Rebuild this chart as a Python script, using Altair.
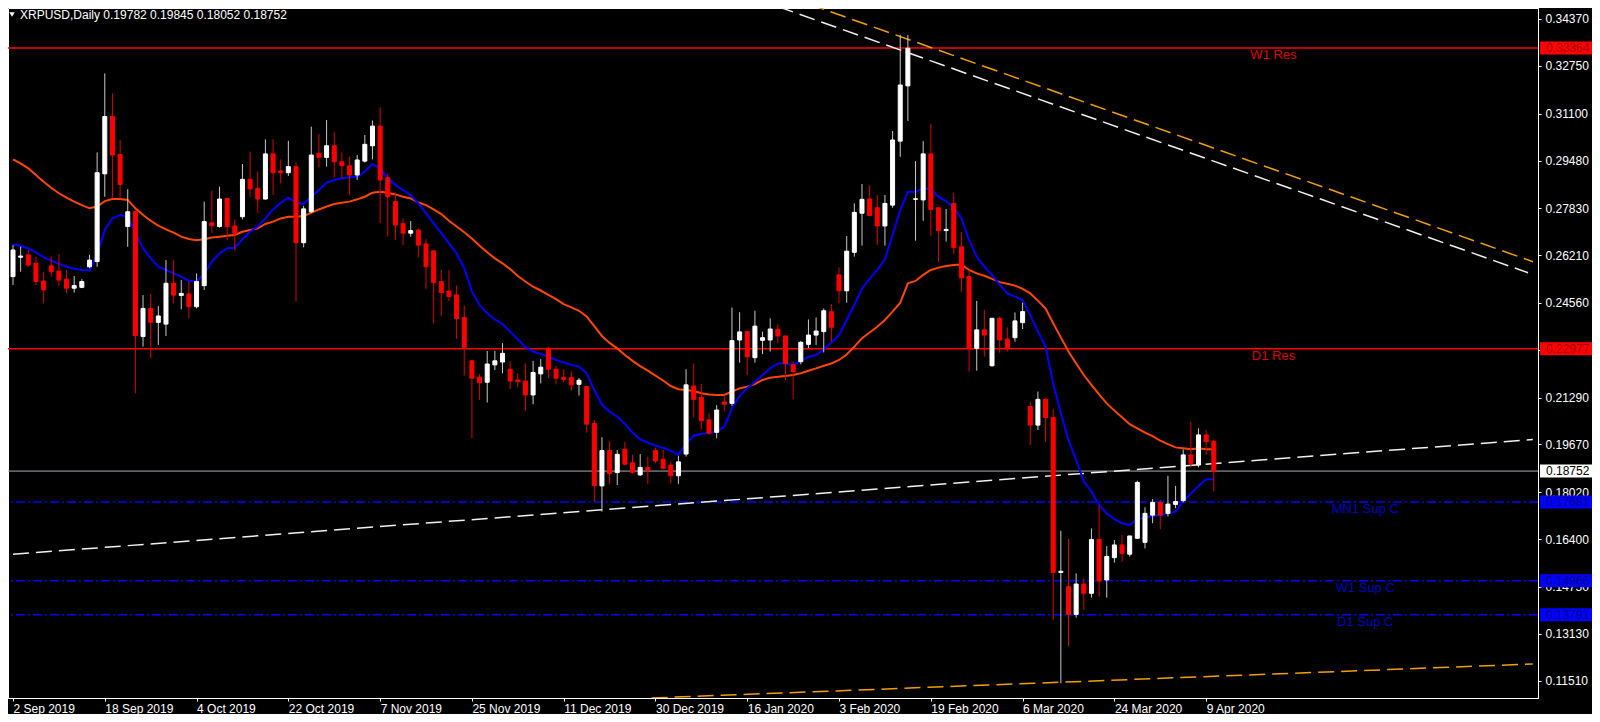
import altair as alt
import pandas as pd

# ---------------- data ----------------
opens = [0.2547,0.2614,0.2622,0.2593,0.2532,0.2584,0.2566,0.2538,0.2507,0.2510,
         0.2581,0.2599,0.2902,0.3100,0.2969,0.2720,0.2771,0.2340,0.2437,0.2389,
         0.2383,0.2524,0.2482,0.2487,0.2443,0.2516,0.2733,0.2720,0.2817,0.2722,
         0.2754,0.2883,0.2852,0.2815,0.2971,0.2912,0.2906,0.2927,0.2664,0.2771,
         0.2973,0.2959,0.2999,0.2944,0.2930,0.2898,0.2946,0.2999,0.3067,0.2889,
         0.2806,0.2730,0.2697,0.2708,0.2660,0.2636,0.2530,0.2497,0.2484,0.2406,
         0.2256,0.2200,0.2182,0.2242,0.2252,0.2227,0.2190,0.2186,0.2138,0.2211,
         0.2299,0.2227,0.2199,0.2198,0.2175,0.2167,0.2040,0.1824,0.1946,0.1870,
         0.1951,0.1904,0.1862,0.1887,0.1946,0.1916,0.1896,0.1859,0.1934,0.2169,
         0.2130,0.2052,0.2009,0.2114,0.2109,0.2328,0.2357,0.2267,0.2327,0.2328,
         0.2365,0.2342,0.2242,0.2253,0.2313,0.2345,0.2357,0.2426,0.2553,0.2498,
         0.2631,0.2766,0.2815,0.2785,0.2722,0.2794,0.3015,0.3206,0.2814,0.2812,
         0.2971,0.2785,0.2706,0.2800,0.2650,0.2547,0.2299,0.2363,0.2239,0.2403,
         0.2331,0.2336,0.2388,0.2098,0.2034,0.2123,0.2060,0.1525,0.1476,0.1380,
         0.1485,0.1453,0.1639,0.1499,0.1576,0.1620,0.1588,0.1643,0.1629,0.1723,
         0.1767,0.1729,0.1760,0.1773,0.1931,0.1896,0.2000,0.19782]
highs = [0.2656,0.2650,0.2639,0.2616,0.2564,0.2616,0.2625,0.2570,0.2549,0.2538,
         0.2622,0.2976,0.3249,0.3180,0.3019,0.2849,0.2775,0.2483,0.2487,0.2445,
         0.2604,0.2604,0.2535,0.2530,0.2558,0.2806,0.2844,0.2858,0.2820,0.2745,
         0.2936,0.2979,0.2910,0.3021,0.3021,0.2952,0.3016,0.2941,0.2791,0.3065,
         0.3040,0.3088,0.3048,0.2976,0.2961,0.2967,0.3036,0.3086,0.3132,0.2902,
         0.2837,0.2748,0.2739,0.2714,0.2676,0.2636,0.2570,0.2570,0.2516,0.2446,
         0.2259,0.2211,0.2290,0.2290,0.2317,0.2254,0.2213,0.2247,0.2256,0.2262,
         0.2305,0.2239,0.2227,0.2220,0.2197,0.2170,0.2052,0.1992,0.1979,0.1948,
         0.1977,0.1931,0.1934,0.1925,0.1956,0.1948,0.1908,0.1928,0.2227,0.2247,
         0.2176,0.2075,0.2103,0.2138,0.2440,0.2424,0.2357,0.2429,0.2357,0.2403,
         0.2383,0.2342,0.2253,0.2325,0.2399,0.2406,0.2437,0.2452,0.2579,0.2687,
         0.2800,0.2867,0.2863,0.2829,0.2829,0.3050,0.3382,0.3382,0.2946,0.3015,
         0.3074,0.2785,0.2781,0.2837,0.2700,0.2570,0.2463,0.2432,0.2403,0.2409,
         0.2372,0.2423,0.2457,0.2115,0.2150,0.2127,0.2089,0.1669,0.1641,0.1522,
         0.1505,0.1677,0.1755,0.1616,0.1637,0.1654,0.1651,0.1842,0.1750,0.1778,
         0.1775,0.1859,0.1824,0.1950,0.2046,0.2023,0.2017,0.19845]
lows = [0.2518,0.2564,0.2581,0.2518,0.2455,0.2547,0.2515,0.2489,0.2492,0.2507,
        0.2576,0.2581,0.2823,0.2817,0.2817,0.2650,0.2144,0.2305,0.2265,0.2311,
        0.2342,0.2455,0.2434,0.2403,0.2437,0.2501,0.2697,0.2716,0.2673,0.2637,
        0.2745,0.2821,0.2766,0.2813,0.2829,0.2869,0.2895,0.2460,0.2648,0.2766,
        0.2925,0.2927,0.2890,0.2887,0.2829,0.2881,0.2941,0.2952,0.2733,0.2685,
        0.2673,0.2656,0.2685,0.2614,0.2503,0.2386,0.2412,0.2463,0.2332,0.2205,
        0.1988,0.2121,0.2112,0.2224,0.2213,0.2159,0.2165,0.2083,0.2106,0.2178,
        0.2196,0.2175,0.2181,0.2153,0.2136,0.2008,0.1769,0.1735,0.1831,0.1827,
        0.1896,0.1867,0.1858,0.1831,0.1902,0.1881,0.1833,0.1831,0.1925,0.2060,
        0.2019,0.2002,0.1988,0.2083,0.2100,0.2250,0.2207,0.2250,0.2279,0.2288,
        0.2317,0.2190,0.2123,0.2244,0.2300,0.2311,0.2285,0.2322,0.2455,0.2457,
        0.2616,0.2654,0.2755,0.2656,0.2654,0.2785,0.2961,0.3085,0.2671,0.2740,
        0.2688,0.2596,0.2668,0.2624,0.2495,0.2219,0.2222,0.2270,0.2236,0.2284,
        0.2288,0.2322,0.2366,0.1965,0.2017,0.1977,0.1361,0.1142,0.1269,0.1369,
        0.1395,0.1438,0.1441,0.1438,0.1559,0.1562,0.1580,0.1641,0.1608,0.1695,
        0.1674,0.1718,0.1747,0.1767,0.1888,0.1888,0.1931,0.18052]
closes = [0.2639,0.2618,0.2587,0.2530,0.2501,0.2564,0.2535,0.2507,0.2516,0.2530,
          0.2604,0.2906,0.3100,0.2967,0.2866,0.2771,0.2343,0.2437,0.2389,0.2411,
          0.2524,0.2483,0.2489,0.2443,0.2530,0.2737,0.2723,0.2815,0.2720,0.2697,
          0.2883,0.2850,0.2815,0.2971,0.2906,0.2906,0.2927,0.2664,0.2781,0.2967,
          0.2959,0.2999,0.2944,0.2930,0.2898,0.2950,0.3004,0.3067,0.2881,0.2823,
          0.2725,0.2697,0.2706,0.2656,0.2581,0.2526,0.2492,0.2478,0.2402,0.2303,
          0.2196,0.2181,0.2245,0.2256,0.2282,0.2186,0.2184,0.2138,0.2216,0.2234,
          0.2227,0.2196,0.2192,0.2173,0.2189,0.2037,0.1825,0.1946,0.1867,0.1933,
          0.1899,0.1871,0.1888,0.1877,0.1910,0.1885,0.1859,0.1907,0.2173,0.2123,
          0.2049,0.2006,0.2086,0.2106,0.2326,0.2356,0.2270,0.2376,0.2336,0.2366,
          0.2342,0.2247,0.2219,0.2320,0.2345,0.2359,0.2429,0.2372,0.2498,0.2635,
          0.2769,0.2814,0.2758,0.2722,0.2800,0.3019,0.3209,0.3336,0.2816,0.2971,
          0.2779,0.2706,0.2710,0.2647,0.2543,0.2299,0.2363,0.2345,0.2403,0.2328,
          0.2299,0.2394,0.2426,0.2034,0.2123,0.2060,0.1525,0.1529,0.1380,0.1485,
          0.1453,0.1639,0.1495,0.1580,0.1620,0.1591,0.1651,0.1836,0.1729,0.1767,
          0.1723,0.1761,0.1770,0.1931,0.1902,0.2000,0.1977,0.18752]
ma_fast = [0.2659,0.2653,0.2645,0.2631,0.2614,0.2602,0.2591,0.2581,0.2574,0.2570,
           0.2568,0.2622,0.2708,0.2748,0.2760,0.2754,0.2697,0.2645,0.2610,0.2581,
           0.2570,0.2558,0.2547,0.2532,0.2532,0.2556,0.2599,0.2627,0.2645,0.2647,
           0.2676,0.2702,0.2720,0.2748,0.2779,0.2802,0.2820,0.2802,0.2798,0.2823,
           0.2846,0.2872,0.2881,0.2887,0.2890,0.2892,0.2910,0.2936,0.2921,0.2887,
           0.2864,0.2846,0.2829,0.2800,0.2766,0.2731,0.2697,0.2662,0.2627,0.2576,
           0.2495,0.2449,0.2420,0.2399,0.2383,0.2357,0.2330,0.2303,0.2288,0.2280,
           0.2270,0.2259,0.2250,0.2242,0.2236,0.2213,0.2155,0.2105,0.2080,0.2063,
           0.2038,0.2008,0.1985,0.1973,0.1963,0.1956,0.1945,0.1931,0.1969,0.1998,
           0.2003,0.2008,0.2011,0.2029,0.2092,0.2135,0.2161,0.2184,0.2207,0.2230,
           0.2247,0.2247,0.2242,0.2256,0.2270,0.2276,0.2296,0.2319,0.2345,0.2397,
           0.2449,0.2506,0.2539,0.2570,0.2607,0.2691,0.2777,0.2840,0.2840,0.2852,
           0.2850,0.2823,0.2808,0.2785,0.2748,0.2673,0.2616,0.2581,0.2553,0.2519,
           0.2489,0.2478,0.2466,0.2414,0.2357,0.2305,0.2178,0.2075,0.1983,0.1913,
           0.1839,0.1804,0.1758,0.1729,0.1709,0.1695,0.1689,0.1710,0.1714,0.1721,
           0.1723,0.1729,0.1735,0.1770,0.1798,0.1824,0.1847,0.1847]
ma_slow = [0.2952,0.2938,0.2921,0.2898,0.2875,0.2854,0.2835,0.2820,0.2806,0.2794,
           0.2783,0.2789,0.2808,0.2815,0.2815,0.2812,0.2783,0.2760,0.2740,0.2723,
           0.2710,0.2699,0.2685,0.2677,0.2673,0.2676,0.2682,0.2685,0.2688,0.2691,
           0.2702,0.2708,0.2714,0.2729,0.2737,0.2748,0.2754,0.2754,0.2756,0.2768,
           0.2779,0.2789,0.2798,0.2802,0.2806,0.2814,0.2823,0.2837,0.2840,0.2837,
           0.2831,0.2823,0.2817,0.2803,0.2794,0.2779,0.2763,0.2740,0.2720,0.2700,
           0.2679,0.2654,0.2631,0.2610,0.2593,0.2573,0.2549,0.2530,0.2512,0.2499,
           0.2484,0.2469,0.2452,0.2441,0.2429,0.2409,0.2376,0.2342,0.2318,0.2299,
           0.2276,0.2256,0.2238,0.2222,0.2205,0.2188,0.2169,0.2158,0.2155,0.2152,
           0.2144,0.2140,0.2138,0.2138,0.2150,0.2161,0.2167,0.2176,0.2190,0.2198,
           0.2201,0.2204,0.2207,0.2213,0.2222,0.2230,0.2239,0.2247,0.2259,0.2278,
           0.2305,0.2334,0.2354,0.2374,0.2397,0.2426,0.2457,0.2524,0.2532,0.2553,
           0.2570,0.2578,0.2584,0.2587,0.2589,0.2570,0.2558,0.2550,0.2539,0.2528,
           0.2522,0.2516,0.2505,0.2489,0.2464,0.2437,0.2386,0.2337,0.2288,0.2247,
           0.2207,0.2173,0.2140,0.2109,0.2084,0.2061,0.2037,0.2023,0.2008,0.1996,
           0.1980,0.1968,0.1957,0.1954,0.1951,0.1954,0.1951,0.1951]

date_labels = ["2 Sep 2019", "18 Sep 2019", "4 Oct 2019", "22 Oct 2019", "7 Nov 2019",
               "25 Nov 2019", "11 Dec 2019", "30 Dec 2019", "16 Jan 2020", "3 Feb 2020",
               "19 Feb 2020", "6 Mar 2020", "24 Mar 2020", "9 Apr 2020"]
date_label_bars = [0, 12, 24, 36, 48, 60, 72, 84, 96, 108, 120, 132, 144, 156]
price_ticks = [0.34370, 0.32750, 0.31100, 0.29480, 0.27830, 0.26210, 0.24560, 0.22940,
               0.21290, 0.19670, 0.18020, 0.16400, 0.14750, 0.13130, 0.11510]

res_names = ["W1 Res", "D1 Res"]
res_values = [0.33364, 0.22977]
sup_names = ["MN1 Sup C", "W1 Sup C", "D1 Sup C"]
sup_values = [0.17681, 0.14966, 0.13791]
last_price = 0.18752
header = "XRPUSD,Daily  0.19782 0.19845 0.18052 0.18752"

# trend lines: (start bar, start price) -> (end bar, end price)
white_lines = ["upper", "lower"]
white_bar0 = [100.0, 0.0]
white_p0 = [0.3480, 0.15877]
white_bar1 = [198.08, 198.7]
white_p1 = [0.25605, 0.19843]
orange_lines = ["upper", "lower"]
orange_bar0 = [104.05, 83.5]
orange_p0 = [0.34888, 0.10912]
orange_bar1 = [198.73, 198.7]
orange_p1 = [0.25985, 0.12087]

# ---------------- tables ----------------
n = len(opens)
df = pd.DataFrame({"bar": list(range(n)), "open": opens, "high": highs, "low": lows,
                   "close": closes, "fast": ma_fast, "slow": ma_slow})
res_df = pd.DataFrame({"name": res_names, "value": res_values})
sup_df = pd.DataFrame({"name": sup_names, "value": sup_values})
last_df = pd.DataFrame({"name": ["last"], "value": [last_price]})


def seg_table(names, b0, p0, b1, p1):
    rows = []
    for k, nm in enumerate(names):
        rows.append({"line": nm, "bar": b0[k], "price": p0[k]})
        rows.append({"line": nm, "bar": b1[k], "price": p1[k]})
    return pd.DataFrame(rows)


white_df = seg_table(white_lines, white_bar0, white_p0, white_bar1, white_p1)
orange_df = seg_table(orange_lines, orange_bar0, orange_p0, orange_bar1, orange_p1)

# ---------------- scales & axes ----------------
FONT = "Liberation Sans"
W, H = 1530, 690
xscale = alt.Scale(domain=[0, 198.73], nice=False, zero=False)
yscale = alt.Scale(domain=[0.10912, 0.34750], nice=False, zero=False)
label_arr = "[" + ",".join("'" + s + "'" for s in date_labels) + "]"
xaxis = alt.Axis(values=date_label_bars, labelExpr=label_arr + "[round(datum.value/12)]",
                 orient="bottom", title=None, grid=False, labelAlign="left",
                 labelBaseline="top", labelPadding=2, tickSize=3, labelFontSize=12,
                 labelFont=FONT, labelColor="white", tickColor="white",
                 domainColor="white", labelOverlap=False, labelFlush=False,
                 labelBound=False)
yaxis = alt.Axis(values=price_ticks, format=".5f", orient="right", title=None,
                 grid=False, labelAlign="left", labelBaseline="middle",
                 labelPadding=4, tickSize=3, labelFontSize=12, labelFont=FONT,
                 labelColor="white", tickColor="white", domainColor="white",
                 labelOverlap=False, labelFlush=False, labelBound=False)


def X(field="bar"):
    return alt.X(field + ":Q", scale=xscale, axis=xaxis)


def Y(field):
    return alt.Y(field + ":Q", scale=yscale, axis=yaxis)


up = "datum.close >= datum.open"
base = alt.Chart(df)

wicks = base.mark_rule(strokeWidth=1, clip=True).encode(
    x=X(), y=Y("low"), y2="high:Q",
    color=alt.condition(up, alt.value("#c8c8c8"), alt.value("#e00000")))
bodies = base.mark_bar(size=4, strokeWidth=1, clip=True).encode(
    x=X(), y=Y("open"), y2="close:Q",
    color=alt.condition(up, alt.value("#ffffff"), alt.value("#ff0000")),
    stroke=alt.condition(up, alt.value("#ffffff"), alt.value("#ff0000")))

ma_f = base.mark_line(color="#0000ff", strokeWidth=2, clip=True).encode(x=X(), y=Y("fast"))
ma_s = base.mark_line(color="#ff4500", strokeWidth=2, clip=True).encode(x=X(), y=Y("slow"))

res_rules = alt.Chart(res_df).mark_rule(color="#ff0000", strokeWidth=1.5).encode(y=Y("value"))
sup_rules = alt.Chart(sup_df).mark_rule(color="#0000ff", strokeWidth=1.5,
                                         strokeDash=[9, 3, 2, 3]).encode(y=Y("value"))
last_rule = alt.Chart(last_df).mark_rule(color="#a8adb3", strokeWidth=1).encode(y=Y("value"))

white_tl = alt.Chart(white_df).mark_line(color="#f0f0f0", strokeWidth=1.5,
                                          strokeDash=[16, 7], clip=True).encode(
    x=X(), y=Y("price"), detail="line:N")
orange_tl = alt.Chart(orange_df).mark_line(color="#f0a000", strokeWidth=1.5,
                                            strokeDash=[16, 7], clip=True).encode(
    x=X(), y=Y("price"), detail="line:N")

RES_LABEL_BAR = 164.8
SUP_LABEL_BAR = 176.8
res_text = alt.Chart(res_df).mark_text(color="#e00000", fontSize=13, font=FONT,
                                        baseline="middle", dy=7).encode(
    x=alt.datum(RES_LABEL_BAR, scale=xscale), y=Y("value"), text="name:N")
sup_text = alt.Chart(sup_df).mark_text(color="#0000c8", fontSize=13, font=FONT,
                                        baseline="middle", dy=7).encode(
    x=alt.datum(SUP_LABEL_BAR, scale=xscale), y=Y("value"), text="name:N")

# price boxes on the right axis
BOX_X = W + 29
TXT_X = W + 8


def box(d, fill, txt):
    b = alt.Chart(d).mark_tick(orient="horizontal", size=54, thickness=13, color=fill,
                               opacity=1).encode(x=alt.value(BOX_X), y=Y("value"))
    t = alt.Chart(d).mark_text(align="left", baseline="middle", fontSize=12, font=FONT,
                               color=txt).encode(
        x=alt.value(TXT_X), y=Y("value"), text=alt.Text("value:Q", format=".5f"))
    return b + t


res_box = box(res_df, "#ff0000", "#a00000")
sup_box = box(sup_df, "#0000ff", "#000080")
last_box = box(last_df, "#ffffff", "#000000")

head_df = pd.DataFrame({"t": [header]})
head = alt.Chart(head_df).mark_text(align="left", baseline="middle", fontSize=12, font=FONT,
                                    color="white").encode(
    x=alt.value(12), y=alt.value(7), text="t:N")
tri = alt.Chart(head_df).mark_point(shape="triangle-down", filled=True, color="white",
                                    size=30, opacity=1).encode(
    x=alt.value(4), y=alt.value(6.5))

chart = alt.layer(
    res_rules, sup_rules, last_rule, white_tl, orange_tl, ma_s, ma_f, wicks, bodies,
    res_text, sup_text, res_box, sup_box, last_box, head, tri
).properties(
    width=W, height=H,
    autosize=alt.AutoSizeParams(type="none"),
    padding={"left": 0, "top": 0, "right": 54, "bottom": 16},
    background="black",
).configure_view(stroke="white", strokeWidth=1, fill="black")

chart.save("out.html", embed_options={"renderer": "svg", "actions": False})
